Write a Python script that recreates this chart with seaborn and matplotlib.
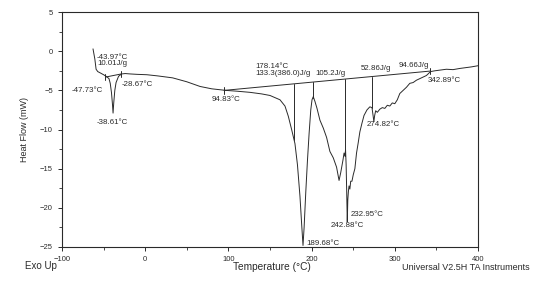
import numpy as np
import pandas as pd
import matplotlib
matplotlib.use("Agg")
import matplotlib.pyplot as plt
import seaborn as sns

# -----------------------------
# DSC curve
# -----------------------------
temp = [-62.7, -60.5, -59, -57, -54.3, -50, -46.3, -43.5, -42, -40.5, -39.3, -38.61,
        -37.8, -36.5, -35, -32, -28.3,
        -24, -18, -10, 2, 15, 33, 50, 66, 80, 97, 110, 126, 140, 150, 162, 168, 172,
        176, 180,
        183, 186, 188, 189.68, 191, 193, 195, 197, 199, 200.5, 202, 204, 206.5, 210,
        214, 218, 222, 226, 230, 233, 235, 237.7, 239, 240, 240.8, 241.5, 242.2, 242.88,
        243.5, 244.3, 245, 246, 247, 248.5, 250,
        252, 254, 256, 258, 260.5, 263, 266.5, 270, 272.6, 274, 274.82, 275.8, 277, 279,
        282, 285, 288, 291, 294, 297, 300, 303, 306, 310,
        314, 318, 322, 326, 330, 334, 338, 342.89, 348, 355, 362, 370, 378, 385, 392, 400]
heat_flow = [0.3, -1.0, -2.3, -2.6, -2.75, -3.0, -3.25, -3.5, -4.1, -5.3, -6.8, -7.9,
             -6.6, -5.0, -4.0, -3.2, -2.9,
             -2.85, -2.9, -2.95, -3.0, -3.15, -3.4, -3.9, -4.5, -4.8, -5.0, -5.1, -5.25,
             -5.45, -5.65, -6.2, -7.0, -8.3, -10.0, -11.8,
             -14.5, -18.5, -22.0, -24.8, -22.5, -18.0, -14.0, -10.5, -7.5, -6.2, -5.8,
             -6.4, -7.3, -8.8, -9.8, -11.0, -12.8, -13.6, -14.8, -16.5, -15.5, -13.9,
             -13.0, -13.4, -12.6, -14.5, -18.0, -21.8, -19.0, -17.8, -17.2, -17.6, -16.6,
             -16.6, -15.8,
             -15.0, -13.0, -11.7, -10.3, -9.2, -8.2, -7.5, -7.1, -7.2, -8.3, -9.0, -8.2,
             -7.6, -7.8, -7.4, -7.2, -7.3, -6.9, -7.0, -6.6, -6.7, -6.2, -5.4, -5.0,
             -4.6, -4.1, -4.0, -3.7, -3.5, -3.3, -3.1, -2.6, -2.5, -2.4, -2.3, -2.35,
             -2.2, -2.1, -2.0, -1.85]

# integration baselines (start / end)
base_main_t = [94.83, 342.89]
base_main_hf = [-5.0, -2.53]
base_small_t = [-47.73, -28.67]
base_small_hf = [-3.3, -2.9]

# partial-area drop lines
drop_t = [179.0, 201.5, 240.0, 272.6]

# annotations: (text, x, y, ha)
notes = [
    ("-43.97°C", -58, -0.75, "left"),
    ("10.01J/g", -58, -1.6, "left"),
    ("-47.73°C", -51, -5.0, "right"),
    ("-28.67°C", -28, -4.3, "left"),
    ("-38.61°C", -40, -9.1, "center"),
    ("94.83°C", 97, -6.1, "center"),
    ("178.14°C", 132, -1.9, "left"),
    ("133.3(386.0)J/g", 132, -2.9, "left"),
    ("105.2J/g", 205, -2.9, "left"),
    ("52.86J/g", 259, -2.15, "left"),
    ("94.66J/g", 304, -1.8, "left"),
    ("342.89°C", 340, -3.8, "left"),
    ("274.82°C", 266, -9.3, "left"),
    ("232.95°C", 246.5, -20.8, "left"),
    ("242.88°C", 223, -22.3, "left"),
    ("189.68°C", 194, -24.6, "left"),
]

df = pd.DataFrame({"Temperature": temp, "HeatFlow": heat_flow})

sns.set_style("ticks")
plt.rcParams["font.family"] = ["Liberation Sans", "DejaVu Sans"]
ink = "#2a2a2a"

fig = plt.figure(figsize=(5.38, 2.81), dpi=100)
ax = fig.add_axes([0.1152, 0.121, 0.7733, 0.836])

sns.lineplot(data=df, x="Temperature", y="HeatFlow", sort=False, ax=ax,
             color=ink, linewidth=0.7)

# baselines
ax.plot(base_main_t, base_main_hf, color=ink, lw=0.7)
ax.plot(base_small_t, base_small_hf, color=ink, lw=0.7)

# tick marks at integration limits
for t, h in zip(base_main_t + base_small_t, base_main_hf + base_small_hf):
    ax.plot([t, t], [h - 0.4, h + 0.4], color=ink, lw=0.7)

# drop lines from baseline to curve
for t in drop_t:
    b = np.interp(t, base_main_t, base_main_hf)
    c = np.interp(t, temp, heat_flow)
    ax.plot([t, t], [b, c], color=ink, lw=0.7)

for txt, x, y, ha in notes:
    ax.text(x, y, txt, fontsize=5.7, ha=ha, va="center", color=ink)

ax.set_xlim(-100, 400)
ax.set_ylim(-25, 5)
ax.set_xticks([-100, 0, 100, 200, 300, 400])
ax.set_xticks([-50, 50, 150, 250, 350], minor=True)
ax.set_yticks([-25, -20, -15, -10, -5, 0, 5])
ax.set_yticks([-22.5, -17.5, -12.5, -7.5, -2.5, 2.5], minor=True)
ax.tick_params(axis="both", which="major", labelsize=5.5, length=3, width=0.7, colors=ink)
ax.tick_params(axis="both", which="minor", length=2, width=0.6, colors=ink)
for s in ax.spines.values():
    s.set_linewidth(0.8)
    s.set_color(ink)

ax.set_xlabel("")
ax.set_ylabel("Heat Flow (mW)", fontsize=6.5, color=ink, labelpad=8)
fig.text(0.505, 0.05, "Temperature (°C)", fontsize=7.3, ha="center", va="center", color=ink)
fig.text(0.046, 0.055, "Exo Up", fontsize=7, ha="left", va="center", color=ink)
fig.text(0.985, 0.048, "Universal V2.5H TA Instruments", fontsize=6.5, ha="right",
         va="center", color=ink)

fig.savefig("out.png", dpi=100)
